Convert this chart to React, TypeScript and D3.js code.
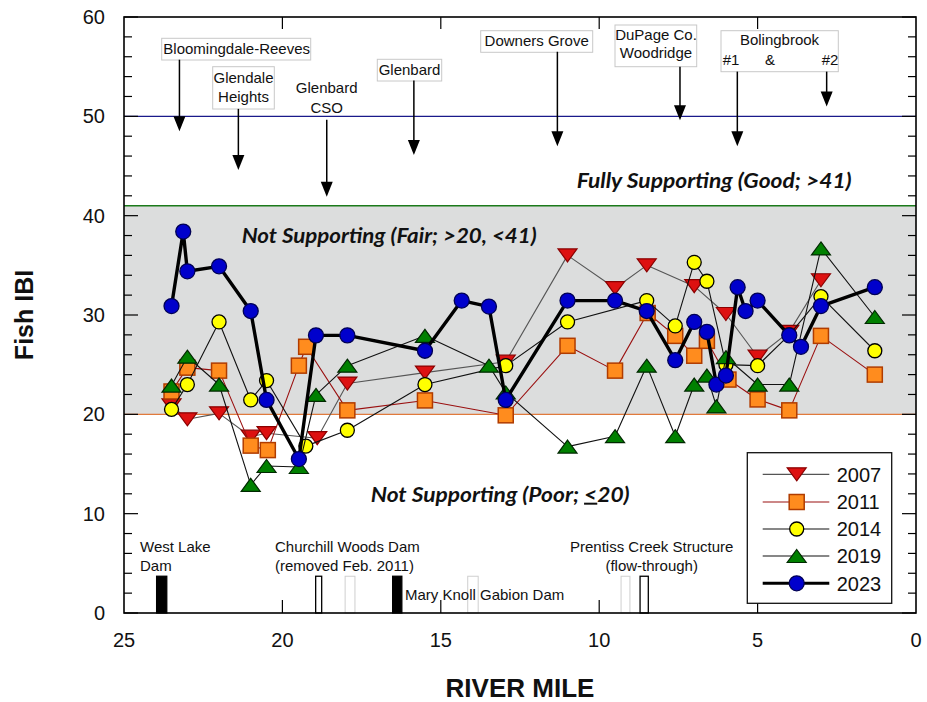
import React from "react";
import * as d3 from "d3";

// ---------- DATA ----------
const xTickValues = [25, 20, 15, 10, 5, 0];
const yTickValues = [0, 10, 20, 30, 40, 50, 60];

const miles2007 = [23.5, 23.0, 22.0, 21.0, 20.5, 18.9, 17.95, 15.5, 12.95, 11.0, 9.5, 8.5, 7.0, 6.0, 5.0, 4.0, 3.0];
const ibi2007 = [20.9, 19.5, 20.1, 17.75, 18.1, 17.6, 23.1, 24.2, 25.3, 36.0, 32.7, 35.0, 32.9, 30.1, 25.8, 28.3, 33.5];

const miles2011 = [23.5, 23.0, 22.0, 21.0, 20.46, 19.48, 19.25, 17.95, 15.5, 12.95, 11.0, 9.5, 8.47, 7.6, 7.0, 6.6, 5.92, 5.0, 4.0, 3.0, 1.3];
const ibi2011 = [22.3, 24.7, 24.4, 16.85, 16.4, 24.9, 26.8, 20.4, 21.4, 19.9, 26.9, 24.4, 30.2, 27.9, 25.9, 27.4, 23.5, 21.5, 20.4, 27.9, 24.0];

const miles2014 = [23.5, 23.0, 22.0, 21.0, 20.5, 19.26, 17.95, 15.5, 12.95, 11.0, 8.5, 7.6, 7.0, 6.6, 6.0, 5.0, 4.0, 3.0, 1.3];
const ibi2014 = [20.5, 23.0, 29.3, 21.45, 23.4, 16.8, 18.4, 23.0, 24.9, 29.3, 31.45, 28.9, 35.3, 33.4, 25.0, 24.9, 28.0, 31.85, 26.4];

const miles2019 = [23.5, 23.0, 22.0, 21.0, 20.5, 19.48, 18.94, 17.95, 15.5, 13.48, 12.95, 11.0, 9.5, 8.5, 7.6, 7.0, 6.6, 6.3, 6.0, 5.0, 4.0, 3.0, 1.3];
const ibi2019 = [22.9, 25.8, 23.0, 12.9, 14.8, 14.7, 21.95, 24.9, 27.9, 24.9, 22.2, 16.75, 17.8, 24.9, 17.8, 23.0, 23.9, 20.8, 25.75, 23.0, 23.0, 36.7, 29.8];

const miles2023 = [23.5, 23.13, 23.0, 22.0, 21.0, 20.5, 19.48, 18.94, 17.95, 15.5, 14.34, 13.48, 12.95, 11.0, 9.5, 8.5, 7.6, 7.0, 6.6, 6.3, 6.0, 5.63, 5.38, 5.0, 4.0, 3.63, 3.0, 1.3];
const ibi2023 = [30.9, 38.4, 34.4, 34.9, 30.4, 21.45, 15.5, 27.95, 27.95, 26.4, 31.45, 30.85, 21.45, 31.45, 31.45, 30.4, 25.45, 29.3, 28.3, 23.0, 23.9, 32.8, 30.4, 31.45, 27.95, 26.8, 30.9, 32.8];

const seriesNames = ["2007", "2011", "2014", "2019", "2023"];

// thresholds
const fairLow = 20;
const goodLow = 41;
const refLine = 50;

// discharge arrows (river mile, start IBI, tip IBI)
const arrowMiles = [23.25, 21.39, 18.6, 15.85, 11.32, 7.45, 5.64, 2.82];
const arrowStart = [55.7, 50.75, 49.65, 53.6, 56.5, 55.0, 54.5, 54.5];
const arrowTip = [48.5, 44.6, 41.9, 46.1, 47.0, 49.6, 47.0, 51.0];

// dams at bottom (mile from, mile to, style)
const damFrom = [23.97, 18.95, 18.02, 16.52, 14.15, 9.31, 8.71];
const damTo = [23.65, 18.76, 17.71, 16.23, 13.82, 9.03, 8.45];
const damKind = ["solid", "open", "faint", "solid", "faint", "faint", "open"];
const damHeight = 3.7;

// ---------- LAYOUT ----------
const W = 927;
const H = 702;
const L = 124, R = 916, T = 17, B = 613;

const x = d3.scaleLinear().domain([25, 0]).range([L, R]);
const y = d3.scaleLinear().domain([0, 60]).range([B, T]);

const SANS = "'Liberation Sans', Arial, sans-serif";
const ITAL = "Lato, 'Open Sans', sans-serif";

type Marker = "down" | "square" | "circle" | "up";

const triPath = (dir: "up" | "down", w = 19, h = 13) =>
  dir === "up"
    ? `M0,${-h / 2}L${w / 2},${h / 2}L${-w / 2},${h / 2}Z`
    : `M0,${h / 2}L${w / 2},${-h / 2}L${-w / 2},${-h / 2}Z`;

const styles: Record<string, { line: string; lw: number; marker: Marker; fill: string; stroke: string }> = {
  "2007": { line: "#555555", lw: 1.1, marker: "down", fill: "#dd1111", stroke: "#8a0000" },
  "2011": { line: "#9a1010", lw: 1.1, marker: "square", fill: "#ff8c1e", stroke: "#b03c00" },
  "2014": { line: "#111111", lw: 1.1, marker: "circle", fill: "#ffff00", stroke: "#000000" },
  "2019": { line: "#111111", lw: 1.1, marker: "up", fill: "#008000", stroke: "#002800" },
  "2023": { line: "#000000", lw: 3.4, marker: "circle", fill: "#0000cc", stroke: "#000055" },
};

const seriesData: Record<string, [number[], number[]]> = {
  "2007": [miles2007, ibi2007],
  "2011": [miles2011, ibi2011],
  "2014": [miles2014, ibi2014],
  "2019": [miles2019, ibi2019],
  "2023": [miles2023, ibi2023],
};

function MarkerShape({ kind, cx, cy, fill, stroke, big }: { kind: Marker; cx: number; cy: number; fill: string; stroke: string; big?: boolean }) {
  if (kind === "circle") {
    return <circle cx={cx} cy={cy} r={big ? 7.5 : 7} fill={fill} stroke={stroke} strokeWidth={1.3} />;
  }
  if (kind === "square") {
    return (
      <rect x={cx - 7.5} y={cy - 7.5} width={15} height={15} fill={fill} stroke={stroke} strokeWidth={1.5} />
    );
  }
  return (
    <path d={triPath(kind === "up" ? "up" : "down")} transform={`translate(${cx},${cy})`} fill={fill} stroke={stroke} strokeWidth={1.2} />
  );
}

export default function App() {
  const line = d3
    .line<[number, number]>()
    .x((d) => x(d[0]))
    .y((d) => y(d[1]));

  const yMinor = d3.range(0, 61, 2);

  return (
    <div style={{ position: "absolute", left: 0, top: 0 }}>
      <svg width={W} height={H} style={{ display: "block", background: "#fff" }}>
        {/* Fair band */}
        <rect x={L} y={y(goodLow)} width={R - L} height={y(fairLow) - y(goodLow)} fill="#dcdddd" />
        <line x1={L} x2={R} y1={y(goodLow)} y2={y(goodLow)} stroke="#1b7a1b" strokeWidth={1.3} />
        <line x1={L} x2={R} y1={y(fairLow)} y2={y(fairLow)} stroke="#e07a3c" strokeWidth={1.3} />
        <line x1={L} x2={R} y1={y(refLine)} y2={y(refLine)} stroke="#1a1a8a" strokeWidth={1.2} />

        {/* Zone texts */}
        <text x={576.7} y={188.3} fontFamily={ITAL} fontStyle="italic" fontWeight="bold" fontSize={20} textLength={275} lengthAdjust="spacingAndGlyphs" fill="#111">
          Fully Supporting (Good; &gt;41)
        </text>
        <text x={241.7} y={243.3} fontFamily={ITAL} fontStyle="italic" fontWeight="bold" fontSize={20} textLength={295} lengthAdjust="spacingAndGlyphs" fill="#111">
          Not Supporting (Fair; &gt;20, &lt;41)
        </text>
        <text x={370.7} y={501.7} fontFamily={ITAL} fontStyle="italic" fontWeight="bold" fontSize={20} textLength={259} lengthAdjust="spacingAndGlyphs" fill="#111">
          Not Supporting (Poor; <tspan textDecoration="underline" style={{ textDecoration: "underline" }}>&lt;</tspan>20)
        </text>

        {/* Annotation boxes */}
        <g fontFamily={SANS} fontSize={15} fill="#111">
          <rect x={161.7} y={38.3} width={149} height={21.7} fill="#fff" stroke="#c8c8c8" strokeWidth={1} />
          <text x={163.3} y={54}>Bloomingdale-Reeves</text>

          <rect x={212.7} y={66.7} width={61.6} height={42.3} fill="#fff" stroke="#c8c8c8" strokeWidth={1} />
          <text x={243.5} y={82.7} textAnchor="middle">Glendale</text>
          <text x={243.5} y={101.7} textAnchor="middle">Heights</text>

          <text x={326.7} y={93.3} textAnchor="middle">Glenbard</text>
          <text x={326.7} y={112.7} textAnchor="middle">CSO</text>

          <rect x={377.3} y={59.3} width={64.4} height={21.7} fill="#fff" stroke="#c8c8c8" strokeWidth={1} />
          <text x={409.5} y={75} textAnchor="middle">Glenbard</text>

          <rect x={480.7} y={30.7} width={112} height={21.6} fill="#fff" stroke="#c8c8c8" strokeWidth={1} />
          <text x={536.7} y={46} textAnchor="middle">Downers Grove</text>

          <rect x={615} y={25} width={81.7} height={41.7} fill="#fff" stroke="#c8c8c8" strokeWidth={1} />
          <text x={656} y={40} textAnchor="middle">DuPage Co.</text>
          <text x={656} y={58} textAnchor="middle">Woodridge</text>

          <rect x={721} y={30.7} width={117.3} height={41} fill="#fff" stroke="#c8c8c8" strokeWidth={1} />
          <text x={779.5} y={45} textAnchor="middle">Bolingbrook</text>
          <text x={731} y={65} textAnchor="middle">#1</text>
          <text x={770} y={65} textAnchor="middle">&amp;</text>
          <text x={830} y={65} textAnchor="middle">#2</text>
        </g>

        {/* Arrows */}
        {arrowMiles.map((m, i) => {
          const ax = x(m);
          const y0 = y(arrowStart[i]);
          const y1 = y(arrowTip[i]);
          return (
            <g key={"ar" + i}>
              <line x1={ax} x2={ax} y1={y0} y2={y1 - 12} stroke="#000" strokeWidth={1.5} />
              <path d={`M${ax - 6},${y1 - 15}L${ax + 6},${y1 - 15}L${ax},${y1}Z`} fill="#000" />
            </g>
          );
        })}

        {/* Dams */}
        {damFrom.map((m, i) => {
          const x0 = x(m);
          const x1 = x(damTo[i]);
          const k = damKind[i];
          return (
            <rect
              key={"dam" + i}
              x={x0}
              y={y(damHeight)}
              width={x1 - x0}
              height={B - y(damHeight)}
              fill={k === "solid" ? "#000" : "none"}
              stroke={k === "faint" ? "#cfcfcf" : "#000"}
              strokeWidth={k === "faint" ? 1 : 1.3}
            />
          );
        })}
        <g fontFamily={SANS} fontSize={15} fill="#111">
          <text x={140} y={551.7}>West Lake</text>
          <text x={140} y={570.7}>Dam</text>
          <text x={275} y={551.7}>Churchill Woods Dam</text>
          <text x={275} y={570.7}>(removed Feb. 2011)</text>
          <text x={405} y={600}>Mary Knoll Gabion Dam</text>
          <text x={651.7} y={551.7} textAnchor="middle">Prentiss Creek Structure</text>
          <text x={651.7} y={571} textAnchor="middle">(flow-through)</text>
        </g>

        {/* Series */}
        {seriesNames.map((name) => {
          const st = styles[name];
          const [ms, vs] = seriesData[name];
          const pts: [number, number][] = ms.map((m, i) => [m, vs[i]]);
          return (
            <g key={name}>
              <path d={line(pts) || ""} fill="none" stroke={st.line} strokeWidth={st.lw} strokeLinejoin="round" />
              {pts.map((p, i) => (
                <MarkerShape key={i} kind={st.marker} cx={x(p[0])} cy={y(p[1])} fill={st.fill} stroke={st.stroke} big={name === "2023"} />
              ))}
            </g>
          );
        })}

        {/* Frame */}
        <rect x={L} y={T} width={R - L} height={B - T} fill="none" stroke="#000" strokeWidth={1.6} />

        {/* Y ticks left & right */}
        {yMinor.map((v) => {
          const major = v % 10 === 0;
          const len = major ? 14 : 8;
          return (
            <g key={"yt" + v}>
              <line x1={L} x2={L + len} y1={y(v)} y2={y(v)} stroke="#000" strokeWidth={1.2} />
              <line x1={R} x2={R - len} y1={y(v)} y2={y(v)} stroke="#000" strokeWidth={1.2} />
            </g>
          );
        })}
        {yTickValues.map((v) => (
          <text key={"yl" + v} x={105} y={y(v) + 7} textAnchor="end" fontFamily={SANS} fontSize={20} fill="#111">
            {v}
          </text>
        ))}

        {/* X ticks top & bottom */}
        {xTickValues.map((v) => (
          <g key={"xt" + v}>
            {v !== 25 && v !== 0 && (
              <>
                <line x1={x(v)} x2={x(v)} y1={T} y2={T + 12} stroke="#000" strokeWidth={1.2} />
                <line x1={x(v)} x2={x(v)} y1={B} y2={B - 13} stroke="#000" strokeWidth={1.2} />
              </>
            )}
            <text x={x(v)} y={647} textAnchor="middle" fontFamily={SANS} fontSize={20} fill="#111">
              {v}
            </text>
          </g>
        ))}

        {/* Axis titles */}
        <text x={(L + R) / 2} y={696.5} textAnchor="middle" fontFamily={SANS} fontWeight="bold" fontSize={26} fill="#111">
          RIVER MILE
        </text>
        <text
          transform={`translate(33,${(T + B) / 2}) rotate(-90)`}
          textAnchor="middle"
          fontFamily={SANS}
          fontWeight="bold"
          fontSize={25}
          fill="#111"
        >
          Fish IBI
        </text>

        {/* Legend */}
        <rect x={747.3} y={452.7} width={144.4} height={150.6} fill="#fff" stroke="#111" strokeWidth={1.3} />
        {seriesNames.map((name, i) => {
          const st = styles[name];
          const ry = [474.3, 502, 529, 556, 583.3][i];
          return (
            <g key={"lg" + name}>
              <line x1={762.7} x2={829.3} y1={ry} y2={ry} stroke={st.line} strokeWidth={st.lw === 3.4 ? 3 : 1.2} />
              <MarkerShape kind={st.marker} cx={796.7} cy={ry} fill={st.fill} stroke={st.stroke} big={name === "2023"} />
              <text x={836.7} y={ry + 7.3} fontFamily={SANS} fontSize={20} fill="#111">
                {name}
              </text>
            </g>
          );
        })}
      </svg>
    </div>
  );
}
